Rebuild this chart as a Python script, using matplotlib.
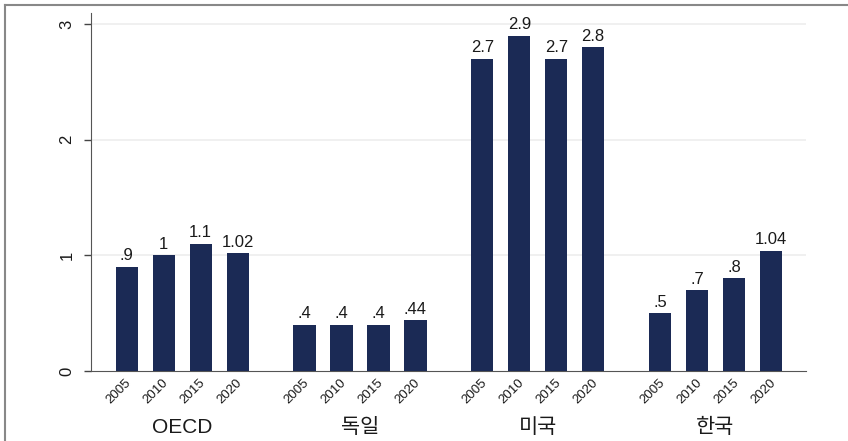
import numpy as np
import matplotlib
matplotlib.use('Agg')
import matplotlib.pyplot as plt
from matplotlib.lines import Line2D
from matplotlib.transforms import ScaledTranslation

plt.rcParams['font.family'] = ['Liberation Sans', 'Noto Sans CJK KR', 'DejaVu Sans']

# 국가별 연도 값
COUNTRIES = ['OECD', '독일', '미국', '한국']
YEARS = ['2005', '2010', '2015', '2020']
OECD = [0.9, 1.0, 1.1, 1.02]
GERMANY = [0.4, 0.4, 0.4, 0.44]
USA = [2.7, 2.9, 2.7, 2.8]
KOREA = [0.5, 0.7, 0.8, 1.04]
VALUES = [OECD, GERMANY, USA, KOREA]

BAR_COLOR = '#1b2a55'
TEXT_COLOR = '#1a1a1a'
GROUP_STEP = 4.81   # 그룹 간 간격 (막대 간격 = 1)
BAR_WIDTH = 0.6


def fmt(v):
    # 0.9 -> .9, 1.0 -> 1
    return f"{v:g}".lstrip('0') if v < 1 else f"{v:g}"


fig = plt.figure(figsize=(8.48, 4.41), dpi=100)
ax = fig.add_axes([0.1073, 0.1587, 0.8432, 0.8118])

xs, labels = [], []
for g, vals in enumerate(VALUES):
    pos = g * GROUP_STEP + np.arange(len(vals))
    bars = ax.bar(pos, vals, width=BAR_WIDTH, color=BAR_COLOR, zorder=3)
    for b, v in zip(bars, vals):
        ax.text(b.get_x() + b.get_width() / 2, v + 0.03, fmt(v),
                ha='center', va='bottom', fontsize=12, color=TEXT_COLOR)
    xs.extend(pos)
    labels.extend(YEARS)
    ax.text(pos.mean(), -0.49, COUNTRIES[g], ha='center', va='center',
            fontsize=15, color=TEXT_COLOR, clip_on=False)

ax.set_xlim(-0.97, 3 * GROUP_STEP + 3 + 0.95)
ax.set_ylim(0, 3.095)

ax.set_xticks(xs)
ax.set_xticklabels(labels, rotation=45, ha='right', va='top', fontsize=9.5, color=TEXT_COLOR)
ax.tick_params(axis='x', length=0, pad=4)
offset = ScaledTranslation(5 / 72, 0, fig.dpi_scale_trans)
for lbl in ax.get_xticklabels():
    lbl.set_transform(lbl.get_transform() + offset)

ax.set_yticks([0, 1, 2, 3])
ax.set_yticklabels(['0', '1', '2', '3'], rotation=90, va='center', fontsize=12, color=TEXT_COLOR)
ax.tick_params(axis='y', length=5, width=1, color='#444444', pad=7)

# 옅은 가로 격자
for y in [1, 2, 3]:
    ax.axhline(y, color='#eeeeee', linewidth=1.2, zorder=1)

for side in ['top', 'right']:
    ax.spines[side].set_visible(False)
ax.spines['left'].set_color('#555555')
ax.spines['bottom'].set_color('#555555')

# 그림 테두리 (위, 왼쪽)
fig.add_artist(Line2D([5 / 848, 5 / 848], [0, 1 - 5 / 441], color='#888888', linewidth=1.5))
fig.add_artist(Line2D([5 / 848, 1], [1 - 5 / 441, 1 - 5 / 441], color='#888888', linewidth=1.5))

fig.savefig('out.png', dpi=100)
plt.close(fig)
